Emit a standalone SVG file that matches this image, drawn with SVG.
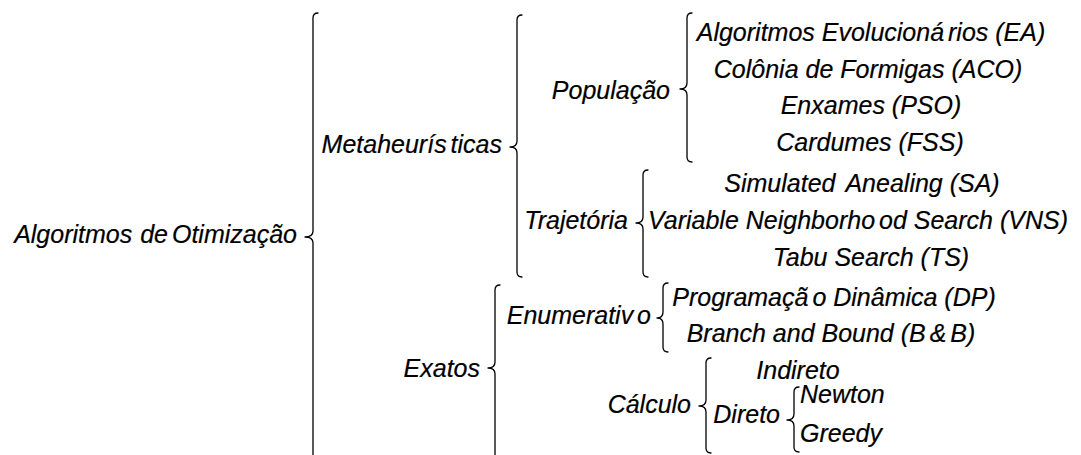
<svg xmlns="http://www.w3.org/2000/svg" width="1081" height="455" viewBox="0 0 1081 455">
<style>
text{font-family:"Liberation Sans",Arial,sans-serif;font-style:italic;font-size:25px;fill:#000;stroke:#000;stroke-width:0.2}
.e{text-anchor:end}
.m{text-anchor:middle}
.g{word-spacing:-3px}
.w{word-spacing:3px}
.r{word-spacing:1px}
.b{fill:none;stroke:#000;stroke-width:1.3;stroke-linecap:round;stroke-linejoin:round}
</style>
<rect width="1081" height="455" fill="#fff"/>
<g id="connectors">
<path class="b" d="M318,13 Q313,13 313,18 L313,231 Q313,237 305,237 Q313,237 313,243 L313,462"/>
<path class="b" d="M522,15 Q517,15 517,20 L517,141 Q517,147 510,147 Q517,147 517,153 L517,272 Q517,277 522,277"/>
<path class="b" d="M692,13 Q687,13 687,18 L687,83 Q687,89 680,89 Q687,89 687,95 L687,157 Q687,162 692,162"/>
<path class="b" d="M648,170 Q643,170 643,175 L643,217 Q643,223 636,223 Q643,223 643,229 L643,272 Q643,277 648,277"/>
<path class="b" d="M500,285 Q495,285 495,290 L495,362 Q495,368 488,368 Q495,368 495,374 L495,460"/>
<path class="b" d="M668,283 Q663,283 663,288 L663,312 Q663,318 657,318 Q663,318 663,324 L663,347 Q663,352 668,352"/>
<path class="b" d="M711,358 Q706,358 706,363 L706,400 Q706,406 699,406 Q706,406 706,412 L706,448 Q706,453 711,453"/>
<path class="b" d="M799,387 Q794,387 794,392 L794,414 Q794,420 787,420 Q794,420 794,426 L794,447 Q794,452 799,452"/>
</g>
<g id="n-root"><text class="e" x="297" y="243">Algoritmos<tspan class="r"> </tspan>de<tspan class="g"> </tspan>Otimização</text></g>
<g id="n-meta"><text class="e g" x="502" y="153">Metaheurís ticas</text></g>
<g id="n-pop"><text class="e" x="670" y="99">População</text></g>
<g id="n-ea"><text class="m" x="871" y="41">Algoritmos Evolucioná<tspan class="g"> </tspan>rios (EA)</text></g>
<g id="n-aco"><text class="m" x="868" y="78">Colônia de Formigas (ACO)</text></g>
<g id="n-pso"><text class="m" x="871" y="114">Enxames (PSO)</text></g>
<g id="n-fss"><text class="m" x="870" y="151">Cardumes (FSS)</text></g>
<g id="n-traj"><text class="e" x="628" y="229">Trajetória</text></g>
<g id="n-sa"><text class="m" x="862" y="192">Simulated<tspan class="w"> </tspan>Anealing (SA)</text></g>
<g id="n-vns"><text class="m" x="858" y="229">Variable Neighborho<tspan class="g"> </tspan>od Search (VNS)</text></g>
<g id="n-ts"><text class="m" x="871" y="266">Tabu Search (TS)</text></g>
<g id="n-exatos"><text class="e" x="480" y="377">Exatos</text></g>
<g id="n-enum"><text class="e g" x="651" y="324">Enumerativ o</text></g>
<g id="n-dp"><text class="m" x="834" y="306">Programaçã<tspan class="g"> </tspan>o Dinâmica (DP)</text></g>
<g id="n-bb"><text class="m" x="831" y="342">Branch and Bound (B<tspan class="g"> &amp; </tspan>B)</text></g>
<g id="n-calc"><text class="e" x="691" y="413">Cálculo</text></g>
<g id="n-ind"><text class="m" x="798" y="379">Indireto</text></g>
<g id="n-dir"><text class="e" x="780" y="423">Direto</text></g>
<g id="n-newton"><text x="800" y="403">Newton</text></g>
<g id="n-greedy"><text x="800" y="442">Greedy</text></g>
</svg>
